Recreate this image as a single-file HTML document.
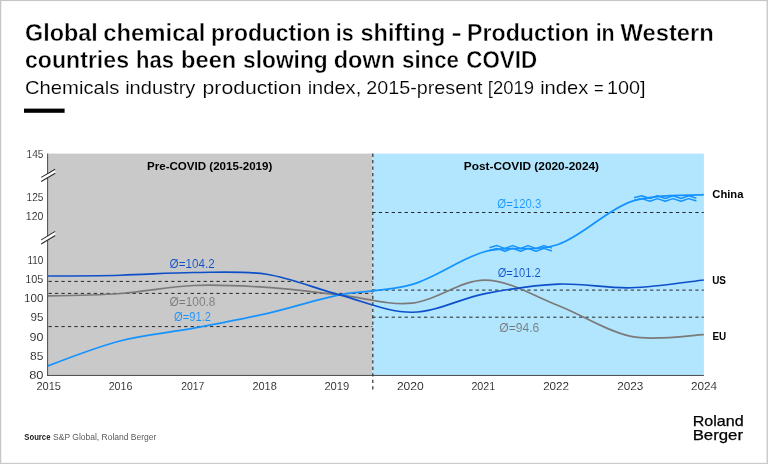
<!DOCTYPE html>
<html lang="en">
<head>
<meta charset="utf-8">
<title>Global chemical production is shifting</title>
<style>
html,body{margin:0;padding:0;background:#fff;}
body{width:768px;height:464px;overflow:hidden;position:relative;font-family:"Liberation Sans",sans-serif;}
svg{position:absolute;left:0;top:0;display:block;}
text{font-family:"Liberation Sans",sans-serif;fill:#000;}
.h1{font-size:23.8px;font-weight:bold;stroke:#fff;stroke-width:0.4px;}
.h2{font-size:18.4px;stroke:#fff;stroke-width:0.14px;}
.ax{font-size:11.4px;fill:#111;stroke:#fff;stroke-width:0.12px;}
.b{font-size:11.5px;font-weight:bold;}
.avg{font-size:12px;stroke-width:0.1px;}
.src{font-size:8.3px;fill:#5a5a5a;}
.srcb{font-size:8.3px;font-weight:bold;fill:#222;}
.logo{font-size:14.6px;fill:#000;stroke:#000;stroke-width:0.25px;}
</style>
</head>
<body>
<svg width="768" height="464" viewBox="0 0 768 464">
<rect x="47.5" y="153.6" width="325" height="221.7" fill="#c9c9c9"/>
<rect x="372.5" y="153.6" width="331.4" height="221.7" fill="#b2e6fe"/>
<line x1="48.5" y1="281.4" x2="372.5" y2="281.4" stroke="#262626" stroke-width="1" stroke-dasharray="3.3 3.16"/>
<line x1="48.5" y1="293.4" x2="372.5" y2="293.4" stroke="#262626" stroke-width="1" stroke-dasharray="3.3 3.16"/>
<line x1="48.5" y1="326.6" x2="372.5" y2="326.6" stroke="#262626" stroke-width="1" stroke-dasharray="3.3 3.16"/>
<line x1="372.3" y1="212.5" x2="703.8" y2="212.5" stroke="#262626" stroke-width="1" stroke-dasharray="3.3 3.16"/>
<line x1="372.3" y1="290.1" x2="703.8" y2="290.1" stroke="#262626" stroke-width="1" stroke-dasharray="3.3 3.16"/>
<line x1="372.3" y1="317.2" x2="703.8" y2="317.2" stroke="#262626" stroke-width="1" stroke-dasharray="3.3 3.16"/>
<line x1="372.8" y1="153.6" x2="372.8" y2="390" stroke="#383838" stroke-width="1.25" stroke-dasharray="3.3 3.16"/>
<path d="M48.00 295.90C72.29 295.57 96.58 295.23 120.87 293.50C145.16 291.77 169.45 286.52 193.74 285.50C218.03 284.48 242.32 285.83 266.61 287.40C290.90 288.97 315.19 292.27 339.48 294.90C363.77 297.53 388.06 305.67 412.35 303.20C436.64 300.73 460.93 279.72 485.22 280.10C509.51 280.48 533.80 296.12 558.09 305.50C582.38 314.88 606.67 331.53 630.96 336.40C655.25 341.27 691.69 334.98 703.83 334.70" fill="none" stroke="#7c7979" stroke-width="1.7"/>
<path d="M48.00 365.90C72.29 356.44 96.58 346.98 120.87 340.70C145.16 334.42 169.45 332.72 193.74 328.20C218.03 323.68 242.32 319.15 266.61 313.60C290.90 308.05 315.19 299.77 339.48 294.90C363.77 290.03 388.06 291.63 412.35 284.40C436.64 277.17 460.93 258.15 485.22 251.50C509.51 244.85 533.80 252.82 558.09 244.50C582.38 236.18 606.67 209.90 630.96 201.60C655.25 193.30 691.69 195.85 703.83 194.70" fill="none" stroke="#1493ff" stroke-width="1.7"/>
<path d="M48.00 276.00C72.29 275.89 96.58 275.78 120.87 275.20C145.16 274.62 169.45 272.65 193.74 272.50C218.03 272.35 242.32 270.57 266.61 274.30C290.90 278.03 315.19 288.58 339.48 294.90C363.77 301.22 388.06 312.42 412.35 312.20C436.64 311.98 460.93 298.28 485.22 293.60C509.51 288.92 533.80 285.07 558.09 284.10C582.38 283.13 606.67 288.48 630.96 287.80C655.25 287.12 691.69 281.30 703.83 280.00" fill="none" stroke="#0d4fc9" stroke-width="1.65"/>
<polyline points="490.0,247.4 496.9,245.6 504.8,248.4 512.7,245.6 520.6,248.4 528.0,245.6 536.0,248.4 543.9,245.6 551.3,247.9" fill="none" stroke="#1493ff" stroke-width="1.5" stroke-linejoin="round" stroke-linecap="round"/>
<polyline points="490.0,250.2 496.9,248.4 504.8,251.2 512.7,248.4 520.6,251.2 528.0,248.4 536.0,251.2 543.9,248.4 551.3,250.7" fill="none" stroke="#1493ff" stroke-width="1.5" stroke-linejoin="round" stroke-linecap="round"/>
<polyline points="634.6,197.5 641.7,195.8 649.9,198.5 657.5,195.8 665.2,198.5 672.9,195.8 681.0,198.5 688.7,195.8 695.8,198.0" fill="none" stroke="#1493ff" stroke-width="1.5" stroke-linejoin="round" stroke-linecap="round"/>
<polyline points="634.6,200.3 641.7,198.6 649.9,201.3 657.5,198.6 665.2,201.3 672.9,198.6 681.0,201.3 688.7,198.6 695.8,200.8" fill="none" stroke="#1493ff" stroke-width="1.5" stroke-linejoin="round" stroke-linecap="round"/>
<line x1="47.6" y1="153.6" x2="47.6" y2="375.9" stroke="#3c3c3c" stroke-width="0.9"/>
<line x1="47.2" y1="375.45" x2="703.9" y2="375.45" stroke="#404040" stroke-width="0.95"/>
<polygon points="41.2,177.4 55.2,169.2 55.2,173.2 41.2,181.5" fill="#fff"/>
<line x1="41.2" y1="177.4" x2="55.2" y2="169.2" stroke="#2a2a2a" stroke-width="1.05"/>
<line x1="41.2" y1="181.5" x2="55.2" y2="173.2" stroke="#2a2a2a" stroke-width="1.05"/>
<polygon points="41.2,239.9 55.2,231.4 55.2,235.5 41.2,244.0" fill="#fff"/>
<line x1="41.2" y1="239.9" x2="55.2" y2="231.4" stroke="#2a2a2a" stroke-width="1.05"/>
<line x1="41.2" y1="244.0" x2="55.2" y2="235.5" stroke="#2a2a2a" stroke-width="1.05"/>
<text class="ax" x="26.50" y="157.9" textLength="16.90" lengthAdjust="spacingAndGlyphs">145</text>
<text class="ax" x="26.50" y="201.1" textLength="16.90" lengthAdjust="spacingAndGlyphs">125</text>
<text class="ax" x="25.80" y="220.3" textLength="17.61" lengthAdjust="spacingAndGlyphs">120</text>
<text class="ax" x="27.50" y="263.6" textLength="15.89" lengthAdjust="spacingAndGlyphs">110</text>
<text class="ax" x="25.30" y="282.9" textLength="18.12" lengthAdjust="spacingAndGlyphs">105</text>
<text class="ax" x="24.10" y="301.9" textLength="19.34" lengthAdjust="spacingAndGlyphs">100</text>
<text class="ax" x="30.50" y="321.4" textLength="12.94" lengthAdjust="spacingAndGlyphs">95</text>
<text class="ax" x="29.60" y="340.6" textLength="13.87" lengthAdjust="spacingAndGlyphs">90</text>
<text class="ax" x="30.10" y="360.1" textLength="13.35" lengthAdjust="spacingAndGlyphs">85</text>
<text class="ax" x="29.20" y="379.2" textLength="14.28" lengthAdjust="spacingAndGlyphs">80</text>
<text class="ax" x="36.40" y="390.1" textLength="24.52" lengthAdjust="spacingAndGlyphs">2015</text>
<text class="ax" x="108.65" y="390.1" textLength="23.87" lengthAdjust="spacingAndGlyphs">2016</text>
<text class="ax" x="181.15" y="390.1" textLength="23.11" lengthAdjust="spacingAndGlyphs">2017</text>
<text class="ax" x="252.40" y="390.1" textLength="24.37" lengthAdjust="spacingAndGlyphs">2018</text>
<text class="ax" x="324.40" y="390.1" textLength="24.88" lengthAdjust="spacingAndGlyphs">2019</text>
<text class="ax" x="396.90" y="390.1" textLength="26.91" lengthAdjust="spacingAndGlyphs">2020</text>
<text class="ax" x="471.40" y="390.1" textLength="23.87" lengthAdjust="spacingAndGlyphs">2021</text>
<text class="ax" x="543.15" y="390.1" textLength="25.89" lengthAdjust="spacingAndGlyphs">2022</text>
<text class="ax" x="617.15" y="390.1" textLength="26.15" lengthAdjust="spacingAndGlyphs">2023</text>
<text class="ax" x="690.90" y="390.1" textLength="26.15" lengthAdjust="spacingAndGlyphs">2024</text>
<text class="b" x="147.00" y="170.0" textLength="125.33" lengthAdjust="spacingAndGlyphs">Pre-COVID (2015-2019)</text>
<text class="b" x="463.75" y="170.0" textLength="135.32" lengthAdjust="spacingAndGlyphs">Post-COVID (2020-2024)</text>
<text class="b" x="712.30" y="198.3" textLength="31.11" lengthAdjust="spacingAndGlyphs">China</text>
<text class="b" x="712.20" y="283.7" textLength="13.81" lengthAdjust="spacingAndGlyphs">US</text>
<text class="b" x="712.50" y="339.6" textLength="13.76" lengthAdjust="spacingAndGlyphs">EU</text>
<text class="avg" x="169.60" y="268.0" textLength="45.08" lengthAdjust="spacingAndGlyphs" style="fill:#0d4fc9;stroke:#c9c9c9">Ø=104.2</text>
<text class="avg" x="169.60" y="306.0" textLength="45.88" lengthAdjust="spacingAndGlyphs" style="fill:#787878;stroke:#c9c9c9">Ø=100.8</text>
<text class="avg" x="174.00" y="321.2" textLength="37.00" lengthAdjust="spacingAndGlyphs" style="fill:#1493ff;stroke:#c9c9c9">Ø=91.2</text>
<text class="avg" x="497.30" y="207.5" textLength="43.99" lengthAdjust="spacingAndGlyphs" style="fill:#1493ff;stroke:#b2e6fe">Ø=120.3</text>
<text class="avg" x="497.70" y="277.1" textLength="43.00" lengthAdjust="spacingAndGlyphs" style="fill:#0d4fc9;stroke:#b2e6fe">Ø=101.2</text>
<text class="avg" x="499.20" y="331.5" textLength="40.17" lengthAdjust="spacingAndGlyphs" style="fill:#787878;stroke:#b2e6fe">Ø=94.6</text>
<text class="h1" y="40.5"><tspan x="25.00" textLength="72.84" lengthAdjust="spacingAndGlyphs">Global</tspan> <tspan x="103.25" textLength="102.12" lengthAdjust="spacingAndGlyphs">chemical</tspan> <tspan x="211.04" textLength="119.48" lengthAdjust="spacingAndGlyphs">production</tspan> <tspan x="335.72" textLength="17.86" lengthAdjust="spacingAndGlyphs">is</tspan> <tspan x="360.50" textLength="84.77" lengthAdjust="spacingAndGlyphs">shifting</tspan> <tspan x="451.25" textLength="10.75" lengthAdjust="spacingAndGlyphs">-</tspan> <tspan x="467.03" textLength="122.25" lengthAdjust="spacingAndGlyphs">Production</tspan> <tspan x="595.65" textLength="19.03" lengthAdjust="spacingAndGlyphs">in</tspan> <tspan x="620.50" textLength="93.29" lengthAdjust="spacingAndGlyphs">Western</tspan></text>
<text class="h1" y="67.6"><tspan x="25.00" textLength="103.98" lengthAdjust="spacingAndGlyphs">countries</tspan> <tspan x="136.08" textLength="37.89" lengthAdjust="spacingAndGlyphs">has</tspan> <tspan x="181.00" textLength="55.28" lengthAdjust="spacingAndGlyphs">been</tspan> <tspan x="243.00" textLength="84.72" lengthAdjust="spacingAndGlyphs">slowing</tspan> <tspan x="333.75" textLength="61.28" lengthAdjust="spacingAndGlyphs">down</tspan> <tspan x="402.00" textLength="56.97" lengthAdjust="spacingAndGlyphs">since</tspan> <tspan x="466.25" textLength="70.92" lengthAdjust="spacingAndGlyphs">COVID</tspan></text>
<text class="h2" y="94.0"><tspan x="25.00" textLength="94.46" lengthAdjust="spacingAndGlyphs">Chemicals</tspan> <tspan x="125.16" textLength="70.21" lengthAdjust="spacingAndGlyphs">industry</tspan> <tspan x="202.60" textLength="98.91" lengthAdjust="spacingAndGlyphs">production</tspan> <tspan x="307.66" textLength="53.55" lengthAdjust="spacingAndGlyphs">index,</tspan> <tspan x="366.25" textLength="116.37" lengthAdjust="spacingAndGlyphs">2015-present</tspan> <tspan x="487.75" textLength="46.23" lengthAdjust="spacingAndGlyphs">[2019</tspan> <tspan x="540.16" textLength="48.06" lengthAdjust="spacingAndGlyphs">index</tspan> <tspan x="594.00" textLength="9.67" lengthAdjust="spacingAndGlyphs">=</tspan> <tspan x="606.92" textLength="38.52" lengthAdjust="spacingAndGlyphs">100]</tspan></text>
<rect x="0" y="0" width="768" height="1.1" fill="#c6c6c6"/>
<rect x="0" y="0" width="1.25" height="464" fill="#c6c6c6"/>
<rect x="766.55" y="0" width="1.45" height="464" fill="#cbcbcb"/>
<rect x="0" y="462.8" width="768" height="1.2" fill="#cbcbcb"/>
<rect x="24" y="108.6" width="40.6" height="4.2" fill="#000"/>
<text class="srcb" x="24.30" y="440.2" textLength="26.14" lengthAdjust="spacingAndGlyphs">Source</text>
<text class="src" x="53.10" y="440.2" textLength="103.26" lengthAdjust="spacingAndGlyphs">S&amp;P Global, Roland Berger</text>
<text class="logo" x="692.70" y="425.5" textLength="50.93" lengthAdjust="spacingAndGlyphs">Roland</text>
<text class="logo" x="692.65" y="439.7" textLength="50.39" lengthAdjust="spacingAndGlyphs">Berger</text>
</svg>
</body>
</html>
